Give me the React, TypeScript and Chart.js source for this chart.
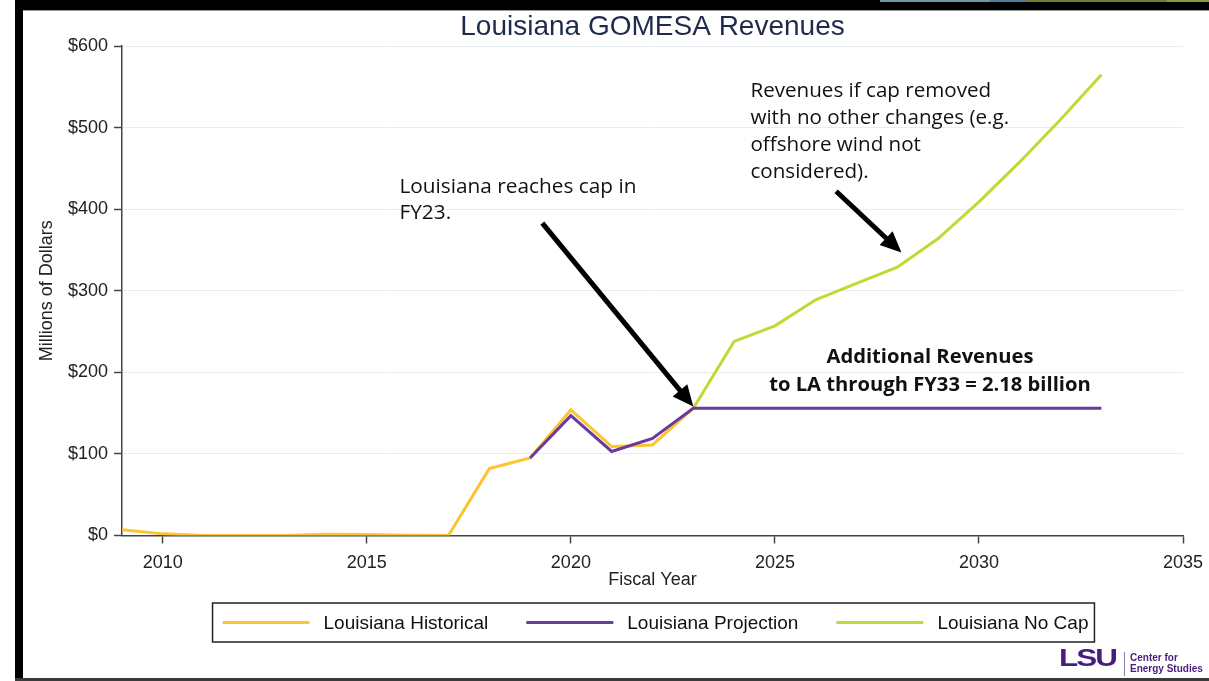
import React, { useEffect, useRef } from "react";
import { Chart, registerables } from "chart.js";

Chart.register(...registerables);

// ---------- data ----------
const historicalYears = [2009, 2010, 2011, 2012, 2013, 2014, 2015, 2016, 2017, 2018, 2019, 2020, 2021, 2022, 2023];
const historicalValues = [7, 2, 0, 0, 0, 1.5, 1.2, 0.3, 0, 82, 95, 154, 109, 111, 156];

const projectionYears = [2019, 2020, 2021, 2022, 2023, 2024, 2025, 2026, 2027, 2028, 2029, 2030, 2031, 2032, 2033];
const projectionValues = [95, 147, 103, 119, 156, 156, 156, 156, 156, 156, 156, 156, 156, 156, 156];

const noCapYears = [2023, 2024, 2025, 2026, 2027, 2028, 2029, 2030, 2031, 2032, 2033];
const noCapValues = [156, 238, 257, 289, 309, 329, 364, 409, 458, 510, 565];

const seriesLabels = ["Louisiana Historical", "Louisiana Projection", "Louisiana No Cap"];
const seriesColors = ["#FCC431", "#6A3A9C", "#C3D834"];

const xTickValues = [2010, 2015, 2020, 2025, 2030, 2035];
const yTickValues = [0, 100, 200, 300, 400, 500, 600];

const chartTitle = "Louisiana GOMESA Revenues";
const xTitle = "Fiscal Year";
const yTitle = "Millions of Dollars";

const capNote = ["Louisiana reaches cap in", "FY23."];
const noCapNote = ["Revenues if cap removed", "with no other changes (e.g.", "offshore wind not", "considered)."];
const additionalNote = ["Additional Revenues", "to LA through FY33 = 2.18 billion"];

// annotation anchors in data units [year, $M]
const capNoteAt = [2015.8, 427];
const noCapNoteAt = [2024.4, 545];
const additionalNoteAt = [2028.8, 219];
const capArrowFrom = [2019.3, 383];
const capArrowTo = [2023.0, 158];
const noCapArrowFrom = [2026.5, 422];
const noCapArrowTo = [2028.1, 347];

const FONT = '"Liberation Sans", Arial, Helvetica, sans-serif';
const NOTE_FONT = '"Open Sans", "Noto Sans", sans-serif';

function toPoints(xs: number[], ys: number[]) {
  return xs.map((x, i) => ({ x, y: ys[i] }));
}

function drawArrow(ctx: CanvasRenderingContext2D, x1: number, y1: number, x2: number, y2: number) {
  const head = 21;
  const half = 9.5;
  const dx = x2 - x1;
  const dy = y2 - y1;
  const len = Math.hypot(dx, dy);
  const ux = dx / len;
  const uy = dy / len;
  const bx = x2 - ux * head;
  const by = y2 - uy * head;
  ctx.save();
  ctx.strokeStyle = "#000";
  ctx.fillStyle = "#000";
  ctx.lineWidth = 5;
  ctx.lineCap = "butt";
  ctx.beginPath();
  ctx.moveTo(x1, y1);
  ctx.lineTo(bx + ux * 2, by + uy * 2);
  ctx.stroke();
  ctx.beginPath();
  ctx.moveTo(x2, y2);
  ctx.lineTo(bx - uy * half, by + ux * half);
  ctx.lineTo(bx + uy * half, by - ux * half);
  ctx.closePath();
  ctx.fill();
  ctx.restore();
}

const notesPlugin = {
  id: "notes",
  afterDatasetsDraw(chart: any) {
    const { ctx } = chart;
    const x = chart.scales.x;
    const y = chart.scales.y;
    const px = (v: number) => x.getPixelForValue(v);
    const py = (v: number) => y.getPixelForValue(v);
    ctx.save();
    ctx.fillStyle = "#111";
    ctx.textBaseline = "middle";
    ctx.textAlign = "left";
    ctx.font = `20.8px ${NOTE_FONT}`;
    capNote.forEach((t, i) => ctx.fillText(t, px(capNoteAt[0]), py(capNoteAt[1]) + i * 26));
    ctx.font = `20.6px ${NOTE_FONT}`;
    noCapNote.forEach((t, i) => ctx.fillText(t, px(noCapNoteAt[0]), py(noCapNoteAt[1]) + i * 27));
    ctx.textAlign = "center";
    ctx.font = `bold 20.2px ${NOTE_FONT}`;
    additionalNote.forEach((t, i) => ctx.fillText(t, px(additionalNoteAt[0]), py(additionalNoteAt[1]) + i * 28));
    ctx.restore();
    drawArrow(ctx, px(capArrowFrom[0]), py(capArrowFrom[1]), px(capArrowTo[0]), py(capArrowTo[1]));
    drawArrow(ctx, px(noCapArrowFrom[0]), py(noCapArrowFrom[1]), px(noCapArrowTo[0]), py(noCapArrowTo[1]));
  },
};

const boxLegendPlugin = {
  id: "boxLegend",
  afterDraw(chart: any) {
    const { ctx, chartArea } = chart;
    const datasets = chart.data.datasets;
    const lineW = 87;
    const gapText = 14;
    const gapItem = 38;
    ctx.save();
    ctx.font = `19px ${FONT}`;
    const widths = datasets.map((d: any) => ctx.measureText(d.label).width);
    const total =
      widths.reduce((a: number, w: number) => a + lineW + gapText + w, 0) + gapItem * (datasets.length - 1);
    const cx = (chartArea.left + chartArea.right) / 2 + 3;
    const cy = chartArea.bottom + 87;
    let xx = cx - total / 2;
    ctx.strokeStyle = "#222";
    ctx.lineWidth = 1.5;
    ctx.strokeRect(xx - 10, cy - 19.5, total + 16, 39);
    ctx.textBaseline = "middle";
    ctx.textAlign = "left";
    datasets.forEach((d: any, i: number) => {
      ctx.strokeStyle = d.borderColor;
      ctx.lineWidth = 3;
      ctx.beginPath();
      ctx.moveTo(xx, cy);
      ctx.lineTo(xx + lineW, cy);
      ctx.stroke();
      xx += lineW + gapText;
      ctx.fillStyle = "#111";
      ctx.fillText(d.label, xx, cy + 1);
      xx += widths[i] + gapItem;
    });
    ctx.restore();
  },
};

export default function App() {
  const canvasRef = useRef<HTMLCanvasElement | null>(null);

  useEffect(() => {
    if (!canvasRef.current) return;
    const chart = new Chart(canvasRef.current, {
      type: "line",
      data: {
        datasets: [
          {
            label: seriesLabels[0],
            data: toPoints(historicalYears, historicalValues),
            borderColor: seriesColors[0],
            backgroundColor: seriesColors[0],
            borderWidth: 3,
            pointRadius: 0,
            tension: 0,
            order: 1,
          },
          {
            label: seriesLabels[1],
            data: toPoints(projectionYears, projectionValues),
            borderColor: seriesColors[1],
            backgroundColor: seriesColors[1],
            borderWidth: 3,
            pointRadius: 0,
            tension: 0,
            order: 0,
          },
          {
            label: seriesLabels[2],
            data: toPoints(noCapYears, noCapValues),
            borderColor: seriesColors[2],
            backgroundColor: seriesColors[2],
            borderWidth: 3,
            pointRadius: 0,
            tension: 0,
            order: 2,
          },
        ],
      },
      options: {
        responsive: false,
        animation: false,
        devicePixelRatio: 1,
        layout: { padding: { left: 0, right: 26, top: 0, bottom: 90.5 } },
        plugins: {
          legend: { display: false },
          tooltip: { enabled: false },
          title: {
            display: true,
            text: chartTitle,
            fullSize: false,
            color: "#1E2B4A",
            font: { family: FONT, size: 28, weight: "normal", lineHeight: 1.2 },
            padding: { top: 10.5, bottom: 2 },
          },
        },
        scales: {
          x: {
            type: "linear",
            min: 2009,
            max: 2035,
            afterFit: (s: any) => {
              s.height = 55;
              s.paddingLeft = 0;
              s.paddingRight = 0;
            },
            afterBuildTicks: (s: any) => {
              s.ticks = xTickValues.map((v) => ({ value: v }));
            },
            ticks: {
              color: "#222",
              font: { family: FONT, size: 18, lineHeight: 1.2 },
              padding: 9,
              maxRotation: 0,
              callback: (v: any) => String(v),
            },
            grid: {
              display: true,
              drawOnChartArea: false,
              drawTicks: true,
              tickLength: 8,
              tickColor: "#444",
              tickWidth: 1.5,
            },
            border: { display: true, color: "#444", width: 1.5 },
            title: {
              display: true,
              text: xTitle,
              color: "#222",
              font: { family: FONT, size: 18, lineHeight: 1.2 },
              padding: { top: 0, bottom: 0 },
            },
          },
          y: {
            type: "linear",
            min: 0,
            max: 600,
            afterFit: (s: any) => {
              s.width = 122;
            },
            afterBuildTicks: (s: any) => {
              s.ticks = yTickValues.map((v) => ({ value: v }));
            },
            ticks: {
              color: "#222",
              font: { family: FONT, size: 18, lineHeight: 1.2 },
              padding: 6,
              callback: (v: any) => "$" + v,
            },
            grid: {
              display: true,
              drawOnChartArea: true,
              drawTicks: true,
              tickLength: 8,
              tickColor: "#444",
              tickWidth: 1.5,
              color: (c: any) => (c.tick && c.tick.value === 0 ? "rgba(0,0,0,0)" : "#E8EEEF"),
              lineWidth: 1,
            },
            border: { display: true, color: "#444", width: 1.5 },
            title: {
              display: true,
              text: yTitle,
              color: "#222",
              font: { family: FONT, size: 18, lineHeight: 1.2 },
              padding: { top: 36, bottom: 0 },
            },
          },
        },
      },
      plugins: [notesPlugin, boxLegendPlugin],
    } as any);
    return () => chart.destroy();
  }, []);

  return (
    <div
      style={{
        position: "fixed",
        left: 0,
        top: 0,
        width: 1209,
        height: 681,
        background: "#fff",
        overflow: "hidden",
      }}
    >
      <canvas
        ref={canvasRef}
        width={1209}
        height={681}
        style={{ position: "absolute", left: 0, top: 0, width: 1209, height: 681 }}
      />
      {/* slide frame */}
      <div style={{ position: "absolute", left: 15, top: 0, width: 1194, height: 10, background: "#000" }} />
      <div style={{ position: "absolute", left: 15, top: 10, width: 1194, height: 1, background: "#9a9a9a" }} />
      <div style={{ position: "absolute", left: 880, top: 0, width: 110, height: 2, background: "#7095AA" }} />
      <div style={{ position: "absolute", left: 990, top: 0, width: 35, height: 2, background: "#4F7D99" }} />
      <div style={{ position: "absolute", left: 1025, top: 0, width: 142, height: 2, background: "#6E8030" }} />
      <div style={{ position: "absolute", left: 1167, top: 0, width: 42, height: 2, background: "#8A9A3A" }} />
      <div style={{ position: "absolute", left: 15, top: 0, width: 8, height: 681, background: "#000" }} />
      <div style={{ position: "absolute", left: 15, top: 678, width: 1194, height: 3, background: "#3a3a3a" }} />
      {/* LSU logo */}
      <div
        style={{
          position: "absolute",
          left: 1059,
          top: 647,
          fontFamily: FONT,
          fontWeight: 900,
          fontSize: 32,
          lineHeight: "32px",
          color: "#461D7C",
          letterSpacing: -2,
          transform: "scale(0.98, 0.72)",
          transformOrigin: "top left",
        }}
      >
        LSU
      </div>
      <div style={{ position: "absolute", left: 1124, top: 652, width: 1, height: 24, background: "#8a7aa6" }} />
      <div
        style={{
          position: "absolute",
          left: 1130,
          top: 652,
          fontFamily: FONT,
          fontWeight: 700,
          fontSize: 10,
          lineHeight: "11px",
          color: "#461D7C",
        }}
      >
        Center for
        <br />
        Energy Studies
      </div>
    </div>
  );
}
